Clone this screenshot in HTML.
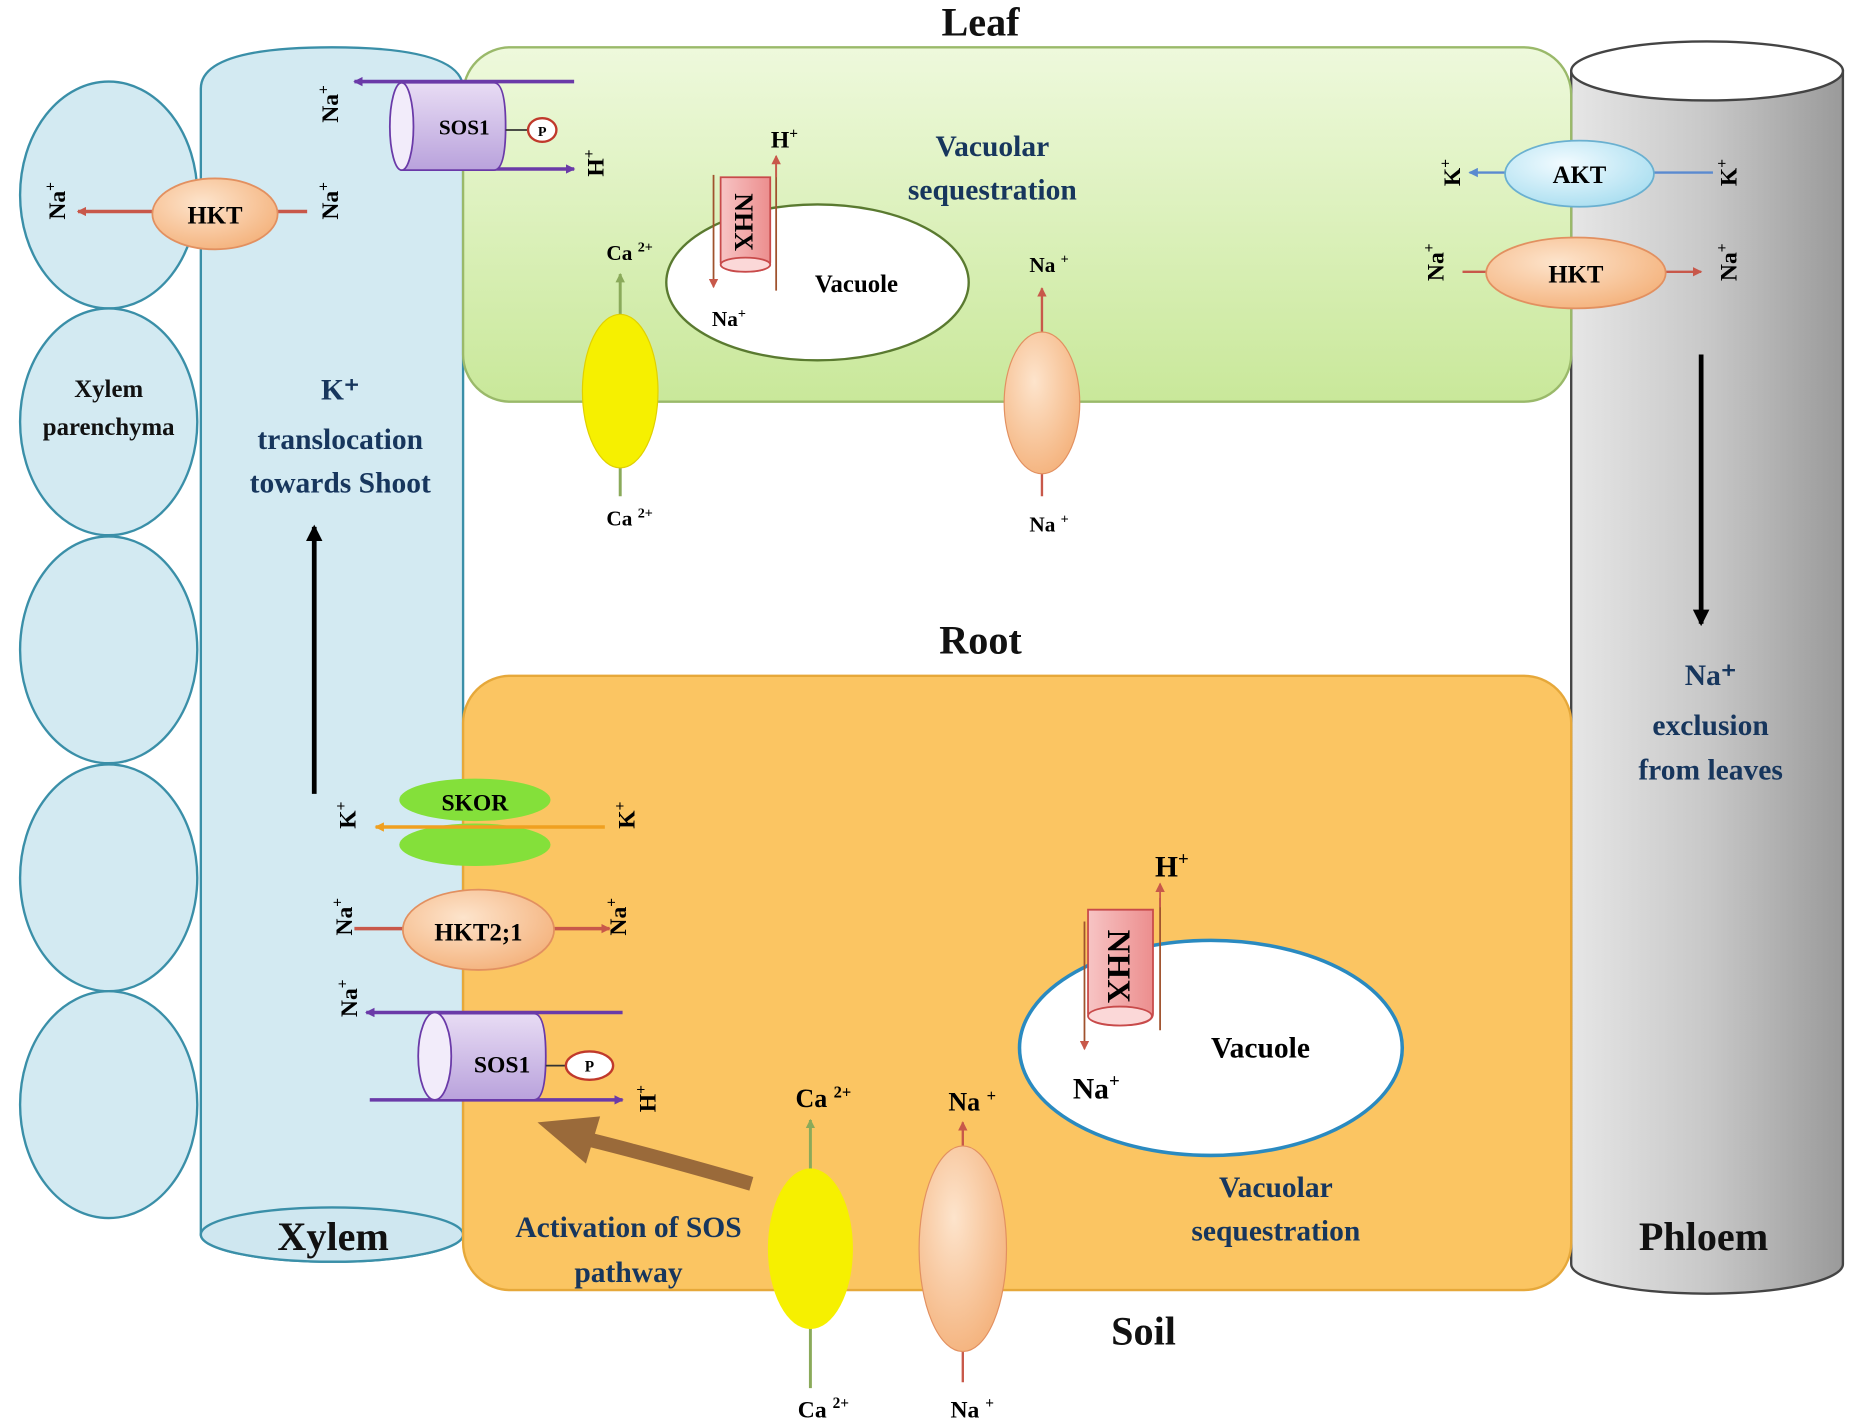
<!DOCTYPE html>
<html><head><meta charset="utf-8"><style>html,body{margin:0;padding:0;background:#fff}svg{display:block}text{font-family:"Liberation Serif",serif;font-weight:bold}</style></head><body>
<svg width="1850" height="1426" viewBox="0 0 1566 1207" xmlns="http://www.w3.org/2000/svg">
<defs>
<linearGradient id="leaf" x1="0" y1="0" x2="0" y2="1"><stop offset="0" stop-color="#eef9dc"/><stop offset="1" stop-color="#c9e89a"/></linearGradient>
<linearGradient id="phl" x1="0" y1="0" x2="1" y2="0"><stop offset="0" stop-color="#e6e6e6"/><stop offset="0.5" stop-color="#c8c8c8"/><stop offset="1" stop-color="#9a9a9a"/></linearGradient>
<linearGradient id="sos" x1="0" y1="0" x2="0" y2="1"><stop offset="0" stop-color="#e8dcf4"/><stop offset="1" stop-color="#b9a2dc"/></linearGradient>
<radialGradient id="hkt" cx="0.4" cy="0.35" r="0.7"><stop offset="0" stop-color="#fde4cc"/><stop offset="1" stop-color="#f4b27c"/></radialGradient>
<linearGradient id="nhx" x1="0" y1="0" x2="1" y2="0"><stop offset="0" stop-color="#f7c4c4"/><stop offset="1" stop-color="#ec8e8e"/></linearGradient>
<radialGradient id="akt" cx="0.4" cy="0.35" r="0.7"><stop offset="0" stop-color="#f2fbff"/><stop offset="1" stop-color="#a9def0"/></radialGradient>
<marker id="ap" markerWidth="8" markerHeight="8" refX="7" refY="4" orient="auto" markerUnits="userSpaceOnUse"><path d="M0,0 L8,4 L0,8 Z" fill="#6a3aa8"/></marker>
<marker id="ar" markerWidth="8" markerHeight="8" refX="7" refY="4" orient="auto" markerUnits="userSpaceOnUse"><path d="M0,0 L8,4 L0,8 Z" fill="#c8584a"/></marker>
<marker id="ag" markerWidth="8" markerHeight="8" refX="7" refY="4" orient="auto" markerUnits="userSpaceOnUse"><path d="M0,0 L8,4 L0,8 Z" fill="#8aaa5a"/></marker>
<marker id="ab" markerWidth="8" markerHeight="8" refX="7" refY="4" orient="auto" markerUnits="userSpaceOnUse"><path d="M0,0 L8,4 L0,8 Z" fill="#5a8ad0"/></marker>
<marker id="ao" markerWidth="8" markerHeight="8" refX="7" refY="4" orient="auto" markerUnits="userSpaceOnUse"><path d="M0,0 L8,4 L0,8 Z" fill="#f0a020"/></marker>
<marker id="ak" markerWidth="14" markerHeight="14" refX="12" refY="7" orient="auto" markerUnits="userSpaceOnUse"><path d="M0,0 L14,7 L0,14 Z" fill="#000"/></marker>
</defs>

<g fill="#d3eaf2" stroke="#3a8fa8" stroke-width="2">
<ellipse cx="92" cy="165" rx="75" ry="96"/>
<ellipse cx="92" cy="357" rx="75" ry="96"/>
<ellipse cx="92" cy="550" rx="75" ry="96"/>
<ellipse cx="92" cy="743" rx="75" ry="96"/>
<ellipse cx="92" cy="935" rx="75" ry="96"/>
</g>
<path d="M170,75 Q170,40 281,40 Q392,40 392,75 L392,1045 A111,23 0 0 1 170,1045 Z" fill="#d3eaf2" stroke="#3a8fa8" stroke-width="2"/>
<ellipse cx="281" cy="1045" rx="111" ry="23" fill="#cfe7f0" stroke="#3a8fa8" stroke-width="2"/>
<path d="M1330,60 L1330,1070 A115,25 0 0 0 1560,1070 L1560,60 Z" fill="url(#phl)" stroke="#444" stroke-width="2"/>
<ellipse cx="1445" cy="60" rx="115" ry="25" fill="#fff" stroke="#444" stroke-width="2"/>
<rect x="392" y="40" width="938" height="300" rx="40" fill="url(#leaf)" stroke="#9ab96a" stroke-width="2"/>
<rect x="392" y="572" width="938" height="520" rx="40" fill="#fbc562" stroke="#e6a83a" stroke-width="2"/>

<g font-size="34" fill="#111" text-anchor="middle">
<text x="830" y="30">Leaf</text>
<text x="830" y="553">Root</text>
<text x="968" y="1138">Soil</text>
<text x="282" y="1058">Xylem</text>
<text x="1442" y="1058">Phloem</text>
</g>
<g font-size="21" fill="#111" text-anchor="middle"><text x="92" y="336">Xylem</text><text x="92" y="368">parenchyma</text></g>
<g font-size="25" fill="#17365d" text-anchor="middle">
<text x="288" y="338">K⁺</text>
<text x="288" y="380">translocation</text>
<text x="288" y="417">towards Shoot</text>
<text x="840" y="132">Vacuolar</text>
<text x="840" y="169">sequestration</text>
<text x="1080" y="1013">Vacuolar</text>
<text x="1080" y="1050">sequestration</text>
<text x="1448" y="580">Na⁺</text>
<text x="1448" y="622">exclusion</text>
<text x="1448" y="660">from leaves</text>
<text x="532" y="1047">Activation of SOS</text>
<text x="532" y="1085">pathway</text>
</g>

<line x1="266" y1="672" x2="266" y2="446" stroke="#000" stroke-width="4" marker-end="url(#ak)"/>
<line x1="1440" y1="300" x2="1440" y2="528" stroke="#000" stroke-width="4" marker-end="url(#ak)"/>

<!-- Leaf SOS1 -->
<line x1="486" y1="69" x2="300" y2="69" stroke="#6a3aa8" stroke-width="3" marker-end="url(#ap)"/>
<line x1="343" y1="143" x2="486" y2="143" stroke="#6a3aa8" stroke-width="3" marker-end="url(#ap)"/>
<path d="M340,70 L418,70 Q428,70 428,107 Q428,144 418,144 L340,144 Z" fill="url(#sos)" stroke="#6a3aa8" stroke-width="1.5"/>
<ellipse cx="340" cy="107" rx="10" ry="37" fill="#f2ecfa" stroke="#6a3aa8" stroke-width="1.5"/>
<text x="393" y="114" font-size="18" text-anchor="middle">SOS1</text>
<line x1="428" y1="110" x2="447" y2="110" stroke="#333" stroke-width="1.5"/>
<ellipse cx="459" cy="110" rx="12" ry="10" fill="#fff" stroke="#c0392b" stroke-width="2"/>
<text x="459" y="115" font-size="12" text-anchor="middle">P</text>

<line x1="260" y1="179" x2="66" y2="179" stroke="#c8584a" stroke-width="3" marker-end="url(#ar)"/>
<ellipse cx="182" cy="181" rx="53" ry="30" fill="url(#hkt)" stroke="#e29060" stroke-width="1.5"/>
<text x="182" y="189" font-size="21" text-anchor="middle">HKT</text>

<ellipse cx="692" cy="239" rx="128" ry="66" fill="#fff" stroke="#5a7a30" stroke-width="2"/>
<text x="725" y="247" font-size="21" text-anchor="middle">Vacuole</text>
<line x1="657" y1="138" x2="657" y2="246" stroke="#a0522d" stroke-width="1.5"/>
<line x1="604" y1="148" x2="604" y2="243" stroke="#a0522d" stroke-width="1.5" marker-end="url(#ar)"/>
<line x1="657" y1="150" x2="657" y2="132" stroke="#c8584a" stroke-width="1.5" marker-end="url(#ar)"/>
<path d="M610,150 L652,150 L652,222 Q652,230 631,230 Q610,230 610,222 Z" fill="url(#nhx)" stroke="#c84a4a" stroke-width="1.5"/>
<ellipse cx="631" cy="224" rx="21" ry="6" fill="#fbd8d8" stroke="#c84a4a" stroke-width="1.5"/>
<text transform="translate(622,188) rotate(90)" font-size="22" text-anchor="middle">NHX</text>
<text x="664" y="125" font-size="20" text-anchor="middle">H<tspan font-size="13" dy="-8">+</tspan></text>
<text x="617" y="276" font-size="18" text-anchor="middle">Na<tspan font-size="12" dy="-7">+</tspan></text>

<line x1="525" y1="420" x2="525" y2="232" stroke="#8aaa5a" stroke-width="2.5" marker-end="url(#ag)"/>
<ellipse cx="525" cy="331" rx="32" ry="65" fill="#f6f000" stroke="#e0d000" stroke-width="1"/>
<text x="533" y="220" font-size="18" text-anchor="middle">Ca <tspan font-size="12" dy="-7">2+</tspan></text>
<text x="533" y="445" font-size="18" text-anchor="middle">Ca <tspan font-size="12" dy="-7">2+</tspan></text>
<line x1="882" y1="420" x2="882" y2="244" stroke="#c8584a" stroke-width="2" marker-end="url(#ar)"/>
<ellipse cx="882" cy="341" rx="32" ry="60" fill="url(#hkt)" stroke="#e29060" stroke-width="1"/>
<text x="888" y="230" font-size="18" text-anchor="middle">Na <tspan font-size="12" dy="-7">+</tspan></text>
<text x="888" y="450" font-size="18" text-anchor="middle">Na <tspan font-size="12" dy="-7">+</tspan></text>

<line x1="1450" y1="146" x2="1244" y2="146" stroke="#5a8ad0" stroke-width="2" marker-end="url(#ab)"/>
<ellipse cx="1337" cy="147" rx="63" ry="28" fill="url(#akt)" stroke="#6ab0d0" stroke-width="1.5"/>
<text x="1337" y="155" font-size="21" text-anchor="middle">AKT</text>
<line x1="1238" y1="230" x2="1440" y2="230" stroke="#c8584a" stroke-width="2" marker-end="url(#ar)"/>
<ellipse cx="1334" cy="231" rx="76" ry="30" fill="url(#hkt)" stroke="#e29060" stroke-width="1.5"/>
<text x="1334" y="239" font-size="21" text-anchor="middle">HKT</text>

<ellipse cx="402" cy="677" rx="64" ry="18" fill="#84e03a"/>
<ellipse cx="402" cy="715" rx="64" ry="18" fill="#84e03a"/>
<text x="402" y="686" font-size="20" text-anchor="middle">SKOR</text>
<line x1="512" y1="700" x2="318" y2="700" stroke="#f0a020" stroke-width="3" marker-end="url(#ao)"/>
<line x1="300" y1="786" x2="516" y2="786" stroke="#c8584a" stroke-width="3" marker-end="url(#ar)"/>
<ellipse cx="405" cy="787" rx="64" ry="34" fill="url(#hkt)" stroke="#e29060" stroke-width="1.5"/>
<text x="405" y="796" font-size="21" text-anchor="middle">HKT2;1</text>

<!-- Root SOS1 -->
<line x1="527" y1="857" x2="310" y2="857" stroke="#6a3aa8" stroke-width="3" marker-end="url(#ap)"/>
<line x1="313" y1="931" x2="527" y2="931" stroke="#6a3aa8" stroke-width="3" marker-end="url(#ap)"/>
<path d="M368,858 L452,858 Q462,858 462,894 Q462,931 452,931 L368,931 Z" fill="url(#sos)" stroke="#6a3aa8" stroke-width="1.5"/>
<ellipse cx="368" cy="894" rx="14" ry="37" fill="#f2ecfa" stroke="#6a3aa8" stroke-width="1.5"/>
<text x="425" y="908" font-size="20" text-anchor="middle">SOS1</text>
<line x1="462" y1="902" x2="480" y2="902" stroke="#333" stroke-width="1.5"/>
<ellipse cx="499" cy="902" rx="20" ry="12" fill="#fff" stroke="#c0392b" stroke-width="2"/>
<text x="499" y="907" font-size="13" text-anchor="middle">P</text>

<path d="M636,1002 Q560,980 500,965" fill="none" stroke="#9a6a3a" stroke-width="12"/>
<path d="M455,950 L508,945 L496,985 Z" fill="#9a6a3a"/>

<ellipse cx="1025" cy="887" rx="162" ry="91" fill="#fff" stroke="#2a8ac0" stroke-width="3"/>
<text x="1067" y="895" font-size="25" text-anchor="middle">Vacuole</text>
<line x1="982" y1="760" x2="982" y2="872" stroke="#a0522d" stroke-width="1.5"/>
<line x1="918" y1="780" x2="918" y2="888" stroke="#a0522d" stroke-width="1.5" marker-end="url(#ar)"/>
<line x1="982" y1="768" x2="982" y2="748" stroke="#c8584a" stroke-width="1.5" marker-end="url(#ar)"/>
<path d="M921,770 L976,770 L976,858 Q976,868 948,868 Q921,868 921,858 Z" fill="url(#nhx)" stroke="#c84a4a" stroke-width="1.5"/>
<ellipse cx="948" cy="860" rx="27" ry="8" fill="#fbd8d8" stroke="#c84a4a" stroke-width="1.5"/>
<text transform="translate(938,818) rotate(90)" font-size="28" text-anchor="middle">NHX</text>
<text x="992" y="742" font-size="25" text-anchor="middle">H<tspan font-size="16" dy="-10">+</tspan></text>
<text x="928" y="930" font-size="25" text-anchor="middle">Na<tspan font-size="16" dy="-10">+</tspan></text>

<line x1="686" y1="1175" x2="686" y2="948" stroke="#8aaa5a" stroke-width="2.5" marker-end="url(#ag)"/>
<ellipse cx="686" cy="1057" rx="36" ry="68" fill="#f6f000"/>
<text x="697" y="937" font-size="22" text-anchor="middle">Ca <tspan font-size="14" dy="-8">2+</tspan></text>
<text x="697" y="1200" font-size="20" text-anchor="middle">Ca <tspan font-size="13" dy="-8">2+</tspan></text>
<line x1="815" y1="1170" x2="815" y2="950" stroke="#c8584a" stroke-width="2" marker-end="url(#ar)"/>
<ellipse cx="815" cy="1057" rx="37" ry="87" fill="url(#hkt)" stroke="#e29060" stroke-width="1"/>
<text x="823" y="940" font-size="22" text-anchor="middle">Na <tspan font-size="14" dy="-8">+</tspan></text>
<text x="823" y="1200" font-size="20" text-anchor="middle">Na <tspan font-size="13" dy="-8">+</tspan></text>

<g font-size="20" text-anchor="middle">
<text transform="translate(286,88) rotate(-90)">Na<tspan font-size="13" dy="-8">+</tspan></text>
<text transform="translate(511,138) rotate(-90)">H<tspan font-size="13" dy="-8">+</tspan></text>
<text transform="translate(286,170) rotate(-90)">Na<tspan font-size="13" dy="-8">+</tspan></text>
<text transform="translate(55,170) rotate(-90)">Na<tspan font-size="13" dy="-8">+</tspan></text>
<text transform="translate(1236,146) rotate(-90)">K<tspan font-size="13" dy="-8">+</tspan></text>
<text transform="translate(1470,146) rotate(-90)">K<tspan font-size="13" dy="-8">+</tspan></text>
<text transform="translate(1222,222) rotate(-90)">Na<tspan font-size="13" dy="-8">+</tspan></text>
<text transform="translate(1470,222) rotate(-90)">Na<tspan font-size="13" dy="-8">+</tspan></text>
<text transform="translate(301,690) rotate(-90)">K<tspan font-size="13" dy="-8">+</tspan></text>
<text transform="translate(537,690) rotate(-90)">K<tspan font-size="13" dy="-8">+</tspan></text>
<text transform="translate(298,776) rotate(-90)">Na<tspan font-size="13" dy="-8">+</tspan></text>
<text transform="translate(530,776) rotate(-90)">Na<tspan font-size="13" dy="-8">+</tspan></text>
<text transform="translate(302,845) rotate(-90)">Na<tspan font-size="13" dy="-8">+</tspan></text>
<text transform="translate(555,930) rotate(-90)">H<tspan font-size="13" dy="-8">+</tspan></text>
</g>
</svg>
</body></html>
